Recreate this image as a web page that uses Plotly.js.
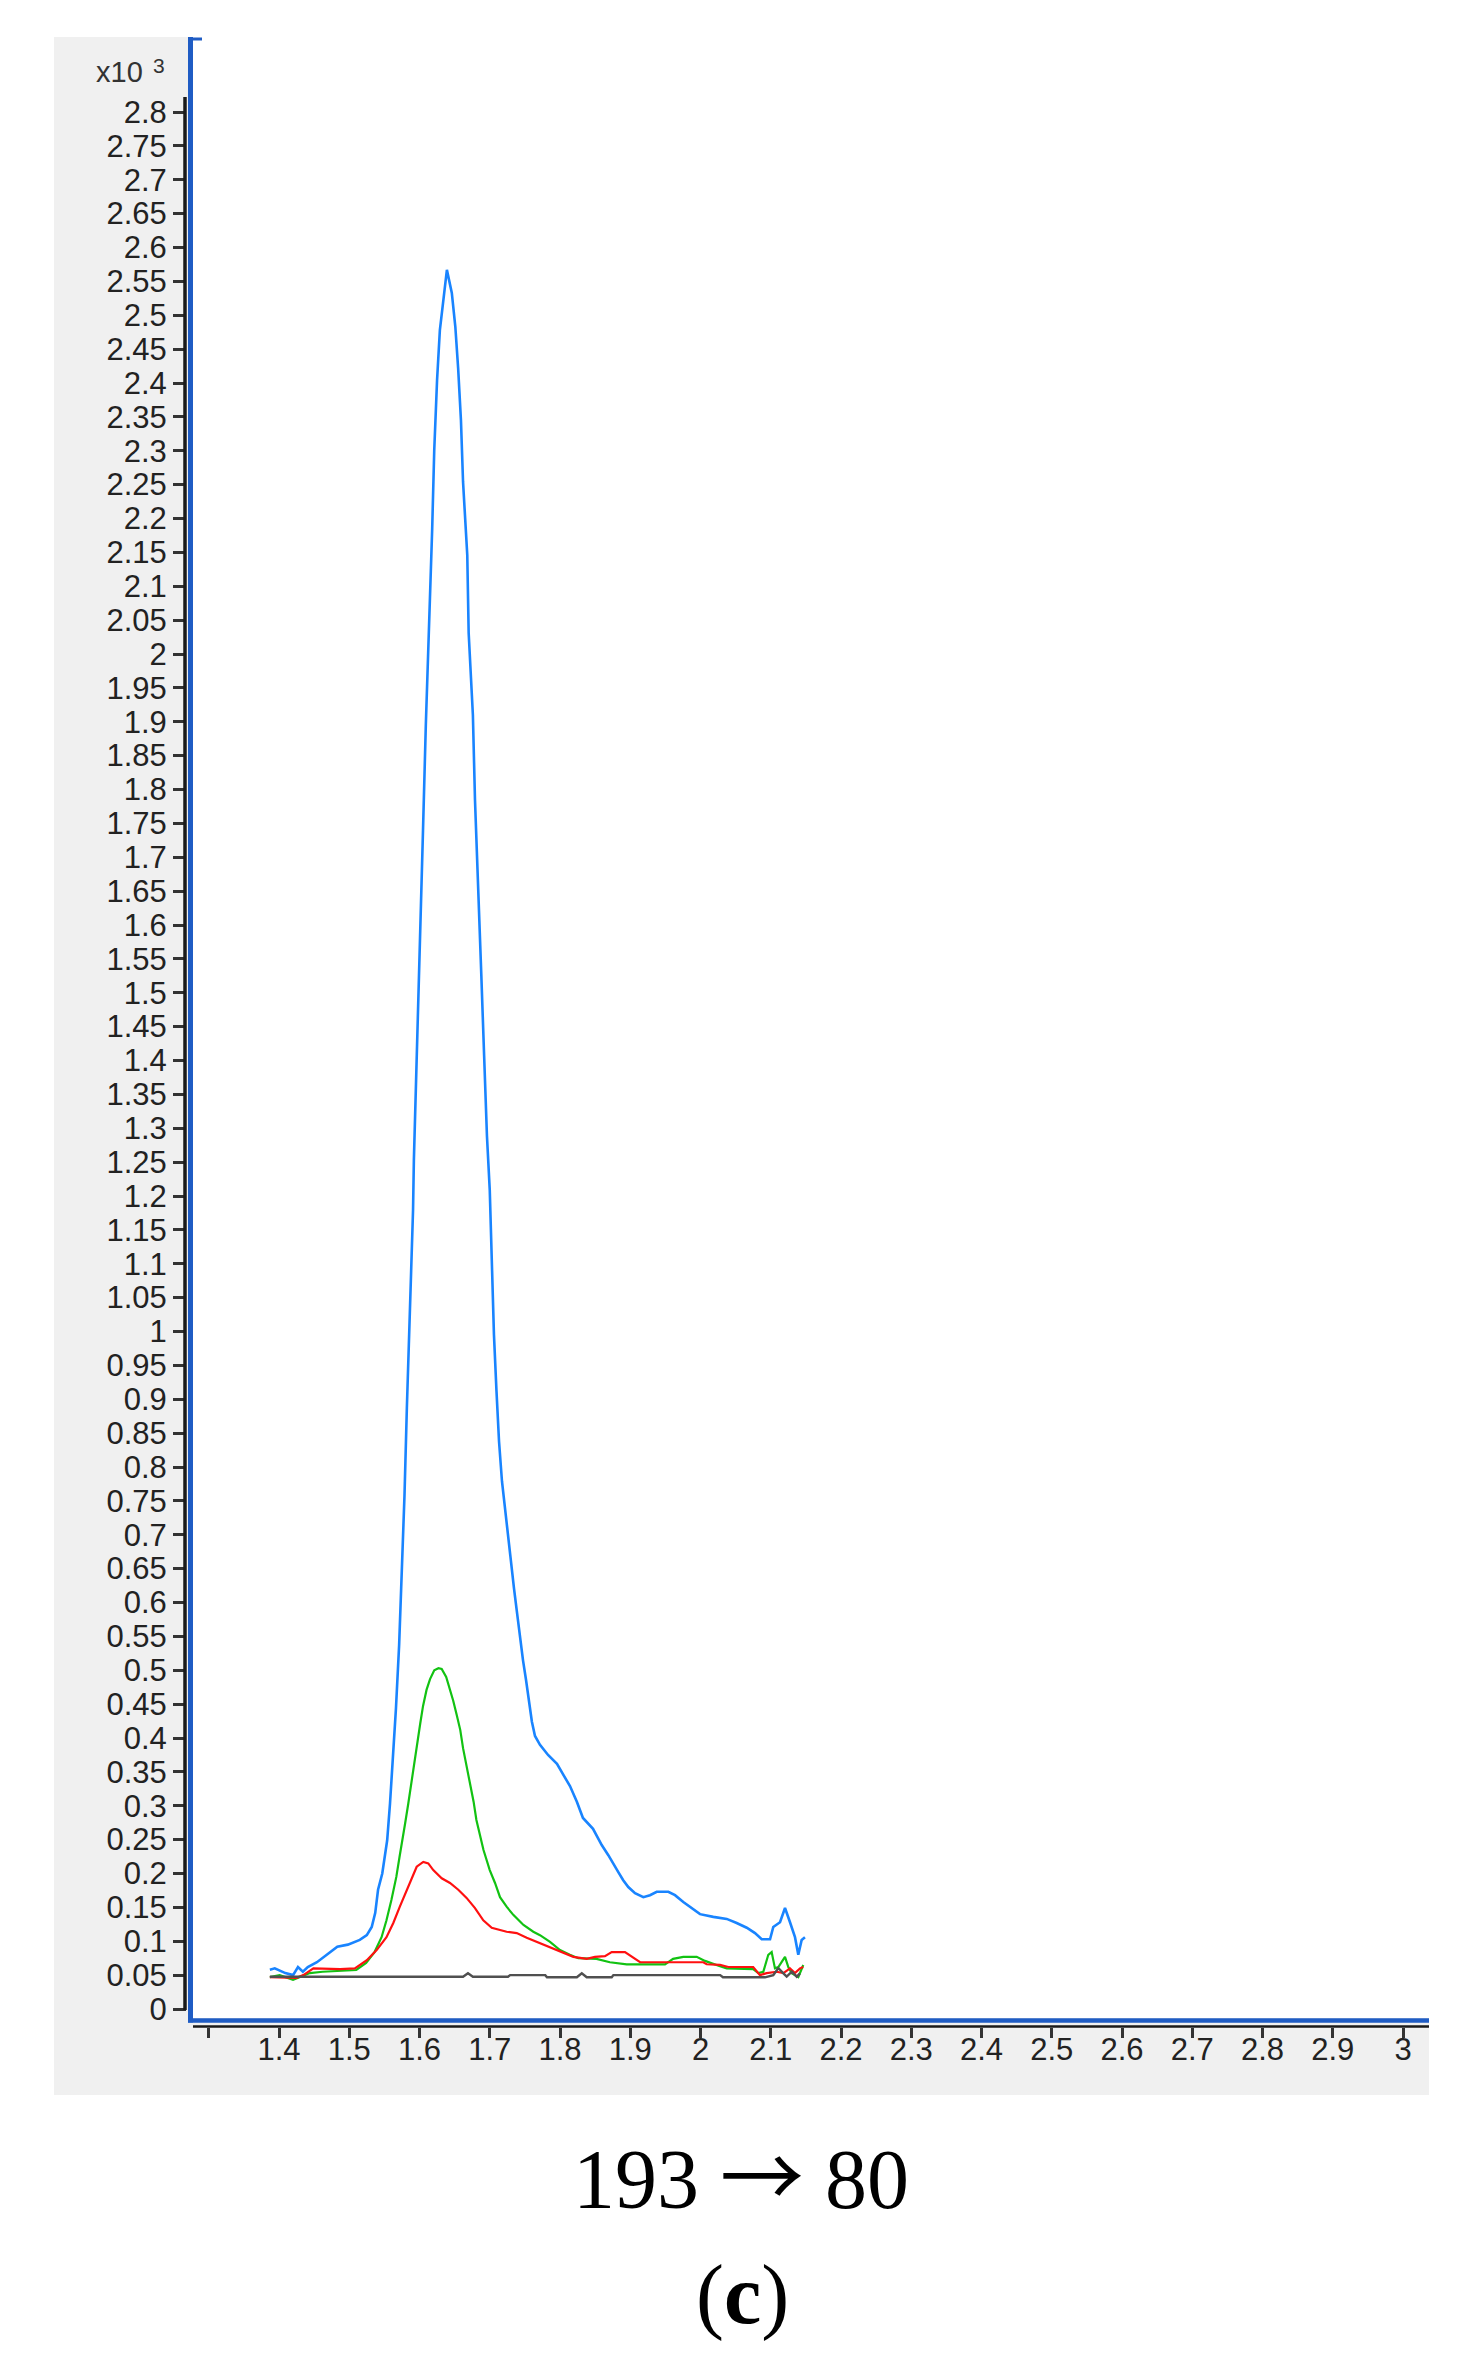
<!DOCTYPE html>
<html>
<head>
<meta charset="utf-8">
<script src="https://cdn.plot.ly/plotly-3.0.1.min.js"></script>
<style>
  html, body { margin: 0; padding: 0; background: #ffffff; }
  #chart { width: 1473px; height: 2368px; }
</style>
</head>
<body>
<div id="chart"></div>
<script>
// ---------------- data (retention time in min, intensity in x10^3) ----------------
const blueX = [1.387,1.394,1.409,1.420,1.427,1.434,1.441,1.454,1.468,1.483,1.498,1.515,1.525,1.532,1.537,1.541,1.547,1.551,1.554,1.558,1.562,1.5665,1.571,1.575,1.5786,1.582,1.5865,1.5908,1.592,1.596,1.601,1.605,1.609,1.614,1.618,1.621,1.625,1.629,1.636,1.639,1.646,1.651,1.655,1.659,1.662,1.668,1.670,1.676,1.679,1.683,1.688,1.692,1.696,1.700,1.7032,1.706,1.7096,1.7132,1.7174,1.7217,1.726,1.730,1.7345,1.7388,1.743,1.7473,1.7516,1.756,1.760,1.7644,1.7715,1.783,1.7957,1.804,1.8142,1.824,1.8327,1.847,1.8594,1.8688,1.8759,1.883,1.890,1.8972,1.9068,1.9186,1.9281,1.9377,1.9542,1.9637,1.9755,1.9875,1.9993,2.0182,2.0373,2.0515,2.0658,2.0776,2.0871,2.099,2.1036,2.1132,2.1203,2.1274,2.1345,2.1392,2.144,2.1487];
const blueY = [0.058,0.060,0.053,0.050,0.062,0.055,0.062,0.069,0.080,0.092,0.095,0.102,0.109,0.121,0.142,0.176,0.200,0.230,0.249,0.303,0.362,0.444,0.537,0.642,0.757,0.887,1.030,1.179,1.253,1.415,1.578,1.740,1.895,2.043,2.183,2.301,2.404,2.478,2.537,2.567,2.533,2.483,2.422,2.345,2.254,2.146,2.031,1.910,1.784,1.655,1.526,1.407,1.289,1.209,1.083,0.995,0.912,0.838,0.779,0.737,0.701,0.663,0.621,0.585,0.548,0.515,0.486,0.452,0.424,0.403,0.390,0.375,0.362,0.347,0.329,0.306,0.282,0.266,0.242,0.227,0.2155,0.202,0.190,0.180,0.171,0.165,0.168,0.173,0.173,0.168,0.158,0.149,0.140,0.136,0.133,0.127,0.120,0.112,0.103,0.103,0.121,0.128,0.149,0.128,0.106,0.080,0.102,0.106];

const greenX = [1.387,1.401,1.420,1.430,1.444,1.462,1.486,1.510,1.524,1.536,1.546,1.553,1.560,1.567,1.5715,1.576,1.5794,1.584,1.588,1.592,1.597,1.601,1.605,1.610,1.615,1.621,1.627,1.6316,1.638,1.643,1.648,1.653,1.658,1.662,1.667,1.672,1.677,1.681,1.686,1.691,1.700,1.7075,1.7146,1.724,1.7335,1.748,1.762,1.7715,1.7858,1.800,1.814,1.826,1.852,1.871,1.895,1.9495,1.961,1.9755,1.9946,2.0064,2.0278,2.0373,2.075,2.0823,2.0894,2.0965,2.1013,2.106,2.1108,2.1203,2.125,2.1298,2.1345,2.1392,2.1463];
const greenY = [0.047,0.050,0.043,0.047,0.053,0.055,0.056,0.0576,0.068,0.084,0.106,0.131,0.161,0.195,0.224,0.249,0.273,0.303,0.332,0.362,0.396,0.421,0.447,0.471,0.487,0.500,0.503,0.502,0.490,0.474,0.455,0.434,0.412,0.385,0.359,0.332,0.306,0.279,0.257,0.235,0.205,0.186,0.165,0.151,0.139,0.124,0.114,0.109,0.099,0.087,0.080,0.075,0.074,0.069,0.066,0.066,0.074,0.077,0.077,0.071,0.063,0.060,0.059,0.053,0.055,0.080,0.084,0.060,0.062,0.077,0.062,0.053,0.050,0.047,0.065];

const redX = [1.387,1.411,1.425,1.4346,1.449,1.487,1.508,1.525,1.539,1.553,1.5627,1.572,1.582,1.589,1.596,1.6054,1.6125,1.6196,1.6316,1.6434,1.6552,1.667,1.679,1.6908,1.7028,1.724,1.7384,1.7526,1.7715,1.781,1.800,1.819,1.838,1.8498,1.864,1.8736,1.8925,1.902,1.914,2.004,2.0088,2.0278,2.0396,2.075,2.0847,2.0942,2.1085,2.118,2.1274,2.1345,2.1416,2.1463];
const redY = [0.047,0.047,0.046,0.050,0.060,0.059,0.060,0.072,0.087,0.106,0.127,0.151,0.176,0.195,0.210,0.217,0.215,0.205,0.193,0.186,0.176,0.164,0.149,0.131,0.120,0.114,0.112,0.105,0.097,0.092,0.084,0.077,0.074,0.077,0.078,0.084,0.084,0.077,0.069,0.069,0.066,0.065,0.062,0.062,0.050,0.053,0.055,0.053,0.060,0.053,0.060,0.062];

const blackX = [1.387,1.662,1.669,1.676,1.726,1.729,1.779,1.7815,1.824,1.831,1.838,1.8736,1.876,2.028,2.032,2.0918,2.1036,2.1108,2.118,2.1227,2.130,2.137,2.1416];
const blackY = [0.0477,0.0477,0.0527,0.0477,0.0477,0.050,0.050,0.0468,0.0468,0.0527,0.0468,0.0468,0.050,0.050,0.0468,0.0468,0.050,0.0605,0.0527,0.0477,0.055,0.0477,0.0527];

// ---------------- tick labels ----------------
const xTickVals = [1.3,1.4,1.5,1.6,1.7,1.8,1.9,2.0,2.1,2.2,2.3,2.4,2.5,2.6,2.7,2.8,2.9,3.0];
const xTickText = ['','1.4','1.5','1.6','1.7','1.8','1.9','2','2.1','2.2','2.3','2.4','2.5','2.6','2.7','2.8','2.9','3'];
const yTickText = ['0','0.05','0.1','0.15','0.2','0.25','0.3','0.35','0.4','0.45','0.5','0.55','0.6','0.65','0.7','0.75','0.8','0.85','0.9','0.95','1','1.05','1.1','1.15','1.2','1.25','1.3','1.35','1.4','1.45','1.5','1.55','1.6','1.65','1.7','1.75','1.8','1.85','1.9','1.95','2','2.05','2.1','2.15','2.2','2.25','2.3','2.35','2.4','2.45','2.5','2.55','2.6','2.65','2.7','2.75','2.8'];
const yTickVals = yTickText.map(Number);

const scaleLabel = 'x10';
const scaleExp = '3';
const transitionLabel = '193 <span style="font-family:Noto Sans CJK JP">\u2192</span> 80';
const panelLabel = '(<b>c</b>)';

// ---------------- geometry (pixels) ----------------
const W = 1473, H = 2368;
const ML = 100, MR = 44, MT = 30, MB = 300;
const PW = W - ML - MR, PH = H - MT - MB;
const PB = H - MB;
const fx = px => (px - ML) / PW;
const fy = py => (PB - py) / PH;

const X_LEFT = 193, X_RIGHT = 1429, Y_TOP = 38, Y_BOTTOM = 2018;
// axis calibration: 1.4 at x=279px, 0.1 per 70.25px ; 0 at y=2009px, 2.8 at 112px
const xAt = px => 1.4 + (px - 279) / 702.5;
const yAt = py => (2009 - py) / 677.5;

const tickFont = { family: 'Liberation Sans, Arial, sans-serif', size: 31, color: '#222222' };
const blueAxis = '#1f5cc4';

const mk = (x, y, color, width) => ({
  type: 'scatter', mode: 'lines', x: x, y: y,
  line: { color: color, width: width, shape: 'linear' },
  hoverinfo: 'skip', showlegend: false
});

const traces = [
  mk(blueX, blueY, '#1984ff', 2.6),
  mk(greenX, greenY, '#12c212', 2.2),
  mk(redX, redY, '#ff1010', 2.2),
  mk(blackX, blackY, '#505050', 2.4)
];

const layout = {
  width: W, height: H,
  margin: { l: ML, r: MR, t: MT, b: MB, pad: 0 },
  paper_bgcolor: '#ffffff',
  plot_bgcolor: '#ffffff',
  showlegend: false,
  xaxis: {
    domain: [fx(X_LEFT), fx(X_RIGHT)],
    range: [xAt(X_LEFT), xAt(X_RIGHT)],
    anchor: 'free', position: fy(2027),
    tickmode: 'array', tickvals: xTickVals, ticktext: xTickText,
    ticks: 'outside', ticklen: 10, tickwidth: 3, tickcolor: '#333333',
    ticklabelstandoff: -15,
    tickfont: tickFont,
    showgrid: false, zeroline: false, showline: false, fixedrange: true
  },
  yaxis: {
    domain: [fy(Y_BOTTOM), fy(Y_TOP)],
    range: [yAt(Y_BOTTOM), yAt(Y_TOP)],
    anchor: 'free', position: fx(186),
    tickmode: 'array', tickvals: yTickVals, ticktext: yTickText,
    ticks: 'outside', ticklen: 13, tickwidth: 3, tickcolor: '#333333',
    ticklabelstandoff: 0,
    tickfont: tickFont,
    showgrid: false, zeroline: false, showline: false, fixedrange: true
  },
  shapes: [
    { type: 'rect', xref: 'paper', yref: 'paper', layer: 'below',
      x0: fx(54), x1: fx(1429), y0: fy(2095), y1: fy(37),
      fillcolor: '#f0f0f0', line: { width: 0 } },
    { type: 'rect', xref: 'paper', yref: 'paper', layer: 'below',
      x0: fx(X_LEFT), x1: fx(1429), y0: fy(Y_BOTTOM), y1: fy(30),
      fillcolor: '#ffffff', line: { width: 0 } },
    { type: 'line', xref: 'paper', yref: 'paper', layer: 'above',
      x0: fx(190.5), x1: fx(190.5), y0: fy(2022.5), y1: fy(37),
      line: { color: blueAxis, width: 5 } },
    { type: 'line', xref: 'paper', yref: 'paper', layer: 'above',
      x0: fx(188), x1: fx(202), y0: fy(39), y1: fy(39),
      line: { color: blueAxis, width: 3 } },
    { type: 'line', xref: 'paper', yref: 'paper', layer: 'above',
      x0: fx(188), x1: fx(1429), y0: fy(2020.5), y1: fy(2020.5),
      line: { color: blueAxis, width: 4.5 } },
    { type: 'line', xref: 'paper', yref: 'paper', layer: 'above',
      x0: fx(185), x1: fx(185), y0: fy(2010), y1: fy(97),
      line: { color: '#1a1a1a', width: 3.5 } },
    { type: 'line', xref: 'paper', yref: 'paper', layer: 'above',
      x0: fx(193), x1: fx(1429), y0: fy(2026.5), y1: fy(2026.5),
      line: { color: '#1a1a1a', width: 2.5 } }
  ],
  annotations: [
    { xref: 'paper', yref: 'paper', x: fx(145), y: fy(90), xanchor: 'right', yanchor: 'bottom',
      text: scaleLabel, showarrow: false,
      font: { family: 'Liberation Sans, Arial, sans-serif', size: 29, color: '#333333' } },
    { xref: 'paper', yref: 'paper', x: fx(151), y: fy(79), xanchor: 'left', yanchor: 'bottom',
      text: scaleExp, showarrow: false,
      font: { family: 'Liberation Sans, Arial, sans-serif', size: 21, color: '#333333' } },
    { xref: 'paper', yref: 'paper', x: fx(741), y: fy(2171), xanchor: 'center', yanchor: 'middle',
      text: transitionLabel, showarrow: false,
      font: { family: 'Liberation Serif, Times New Roman, serif', size: 84, color: '#000000' } },
    { xref: 'paper', yref: 'paper', x: fx(742), y: fy(2295), xanchor: 'center', yanchor: 'middle',
      text: panelLabel, showarrow: false,
      font: { family: 'Liberation Serif, Times New Roman, serif', size: 84, color: '#000000' } }
  ]
};

Plotly.newPlot('chart', traces, layout, { displayModeBar: false, staticPlot: true });
</script>
</body>
</html>
